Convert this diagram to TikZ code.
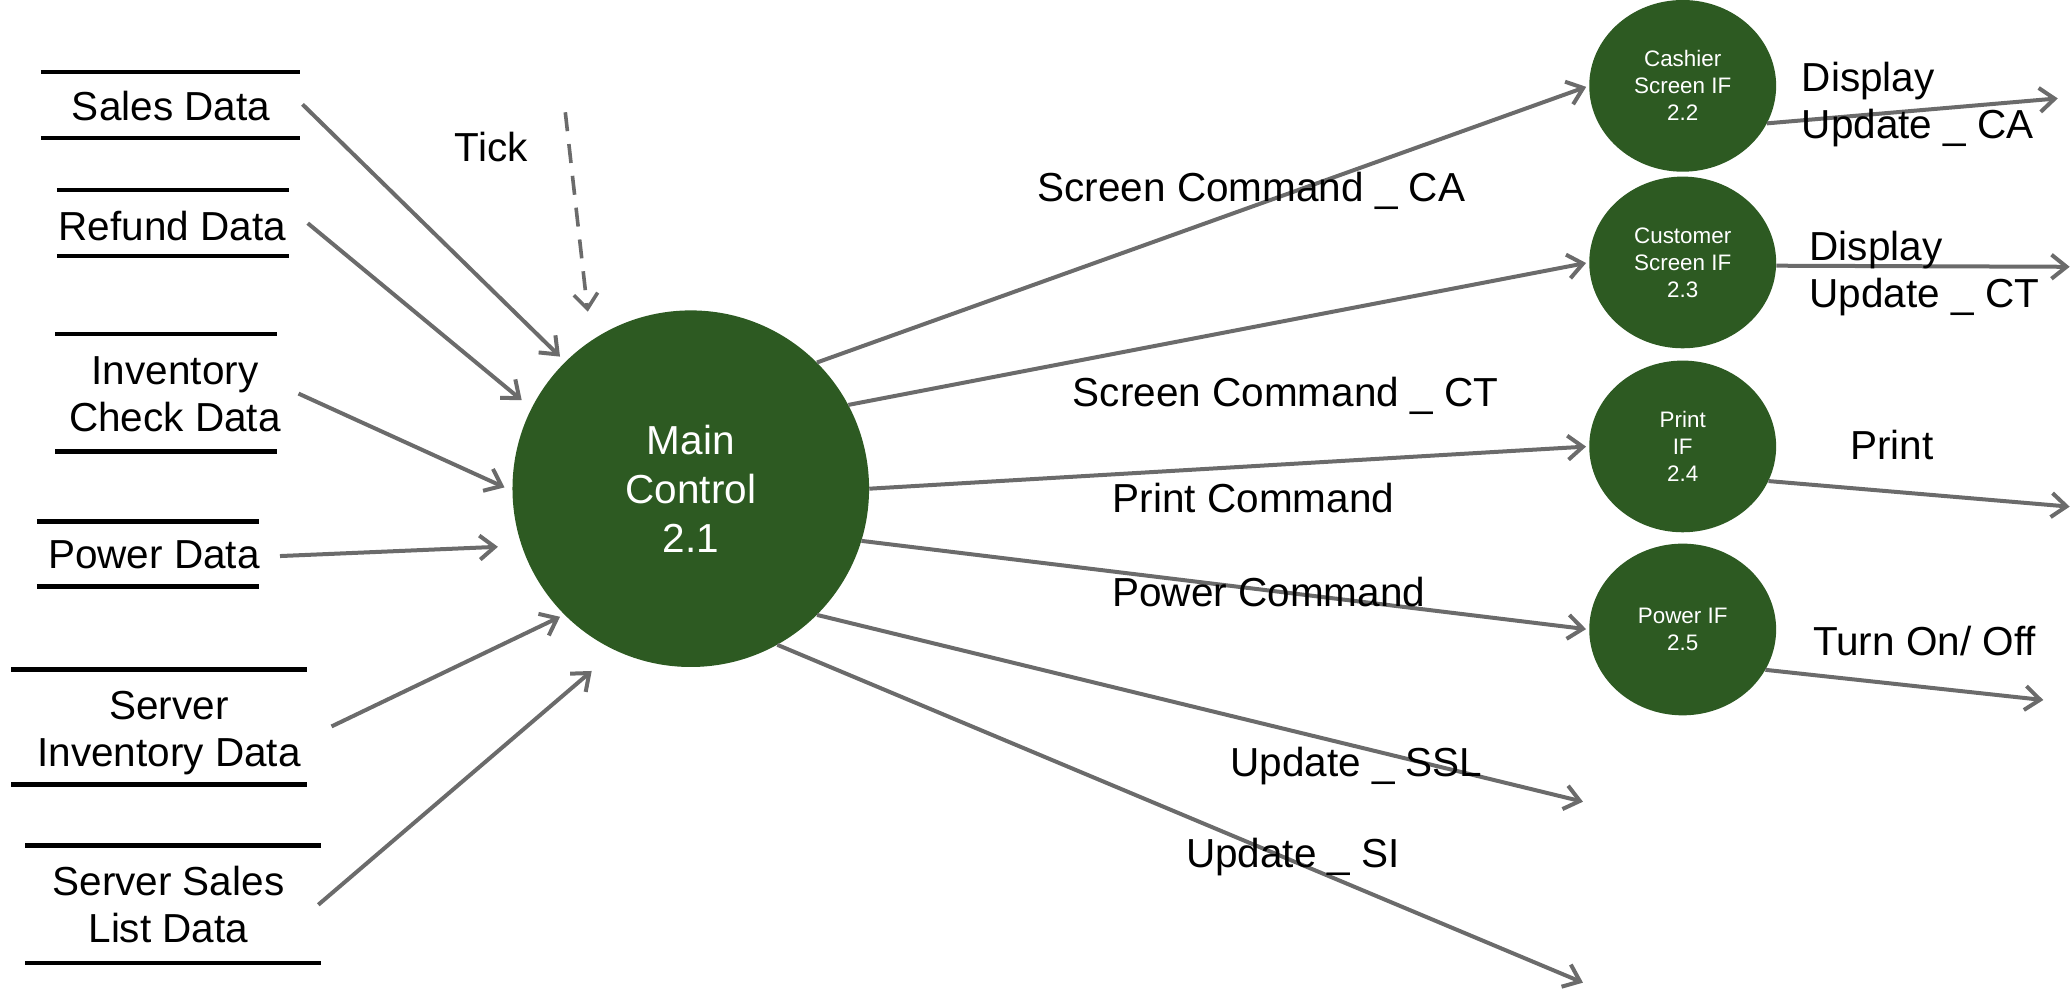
\documentclass[tikz,border=0pt]{standalone}
\usepackage{fontspec}
\setmainfont{Liberation Sans}
\usetikzlibrary{arrows.meta,shapes.geometric}
\definecolor{procgreen}{HTML}{2D5A22}
\definecolor{flowgray}{HTML}{6B6B6B}

% top and bottom bars of a data store, placed relative to its label node
\newcommand\storebars[5]{%
  \draw[storeline] ([shift={(#2,#4)}]#1.center) -- ([shift={(#3,#4)}]#1.center);
  \draw[storeline] ([shift={(#2,#5)}]#1.center) -- ([shift={(#3,#5)}]#1.center);}

\begin{document}
\begin{tikzpicture}[x=1.3208pt,y=1.3208pt,
  big/.style={font=\fontsize{40.5}{47}\selectfont},
  small/.style={font=\fontsize{22.4}{27}\selectfont},
  storetext/.style={big, align=center, inner sep=0pt, text depth=0pt},
  storeline/.style={line width=4.5pt, black},
  flowlabel/.style={big, inner sep=0pt, anchor=base},
  flow/.style={draw=flowgray, line width=4pt, -{Straight Barb[length=15pt,width=24pt]}},
  mainproc/.style={circle, fill=procgreen, text=white, minimum size=356.6pt,
    inner sep=0pt, align=center, font=\fontsize{40.5}{49}\selectfont},
  subproc/.style={ellipse, fill=procgreen, text=white, minimum width=186.9pt,
    minimum height=171.7pt, inner sep=0pt, align=center, small},
]
\useasboundingbox (0,0) rectangle (1568,-749);

% processes
\node[mainproc] (main) at (523,-370) {Main\\Control\\2.1};
\node[subproc] (cashier) at (1274,-65) {Cashier\\Screen IF\\2.2};
\node[subproc] (customer) at (1274,-198.7) {Customer\\Screen IF\\2.3};
\node[subproc] (printif) at (1274,-338) {Print\\IF\\2.4};
\node[subproc] (powerif) at (1274,-476.6) {Power IF\\2.5};

% data stores
\node[storetext] (sales) at (129.5,-80) {Sales Data};
\node[storetext] (refund) at (130.5,-171) {Refund Data};
\node[storetext] (invcheck) at (132.5,-298.5) {Inventory\\Check Data};
\node[storetext] (powerdata) at (116.5,-420) {Power Data};
\node[storetext] (serverinv) at (128,-551.5) {Server\\Inventory Data};
\node[storetext] (serversales) at (127.5,-685) {Server Sales\\List Data};

\storebars{sales}{-98.5}{98}{25.5}{-24.5}
\storebars{refund}{-87.5}{88.5}{27}{-23}
\storebars{invcheck}{-90.5}{77.5}{45.5}{-43.5}
\storebars{powerdata}{-88.5}{79.5}{25}{-24}
\storebars{serverinv}{-119.3}{104.5}{44.5}{-42.5}
\storebars{serversales}{-108.5}{115.5}{45}{-44}

% free ends of flows
\coordinate (tickstart) at (428,-85);
\coordinate (sslend) at (1198.5,-607);
\coordinate (siend) at (1198.5,-744);
\coordinate (caout) at (1558,-74.5);
\coordinate (ctout) at (1567,-202);
\coordinate (printout) at (1567,-383.6);
\coordinate (powerout) at (1547,-530);

% inputs to main control
\draw[flow] ([shift={(99.5,1)}]sales.center) -- ([shift={(-99,100)}]main.center);
\draw[flow] ([shift={(102.5,2)}]refund.center) -- ([shift={(-128,67)}]main.center);
\draw[flow] ([shift={(93.5,0.5)}]invcheck.center) -- ([shift={(-141,1)}]main.center);
\draw[flow] ([shift={(95.5,-1)}]powerdata.center) -- ([shift={(-146,-44)}]main.center);
\draw[flow] ([shift={(123,1.5)}]serverinv.center) -- ([shift={(-99,-97)}]main.center);
\draw[flow] ([shift={(113.5,0)}]serversales.center) -- ([shift={(-75,-138)}]main.center);
\draw[flow, line width=3.6pt, dash pattern=on 19pt off 13pt] (tickstart) -- ([shift={(-78,134)}]main.center);

% outputs of main control
\draw[flow, shorten >=3pt] (main.45.4) -- (cashier.west);
\draw[flow, shorten >=3pt] (main.28) -- (customer.west);
\draw[flow, shorten >=3pt] (main.0.2) -- (printif.west);
\draw[flow, shorten >=3pt] (main.-17.8) -- (powerif.west);
\draw[flow] (main.-45.3) -- (sslend);
\draw[flow] (main.-61) -- (siend);

% outputs of the interfaces
\draw[flow] (cashier.-24.6) -- (caout);
\draw[flow] (customer.-2.6) -- (ctout);
\draw[flow] (printif.-22.3) -- (printout);
\draw[flow] (powerif.-26) -- (powerout);

% flow labels
\node[flowlabel] (ltick) at (372,-122.4) {Tick};
\node[flowlabel] (lsca) at (947.5,-152.7) {Screen Command \_ CA};
\node[flowlabel] (lsct) at (973.4,-308) {Screen Command \_ CT};
\node[flowlabel] (lprintcmd) at (949,-388) {Print Command};
\node[flowlabel] (lpowercmd) at (960.7,-459) {Power Command};
\node[flowlabel] (lssl) at (1027,-588) {Update \_ SSL};
\node[flowlabel] (lsi) at (979,-657) {Update \_ SI};
\node[big, inner sep=0pt, anchor=north west, align=left] (ldca) at (1364,-47) {Display\\Update \_ CA};
\node[big, inner sep=0pt, anchor=north west, align=left] (ldct) at (1370,-175) {Display\\Update \_ CT};
\node[flowlabel, anchor=base west] (lprint) at (1400.7,-348) {Print};
\node[flowlabel, anchor=base west] (lturn) at (1372.6,-496) {Turn On/ Off};
\end{tikzpicture}
\end{document}
